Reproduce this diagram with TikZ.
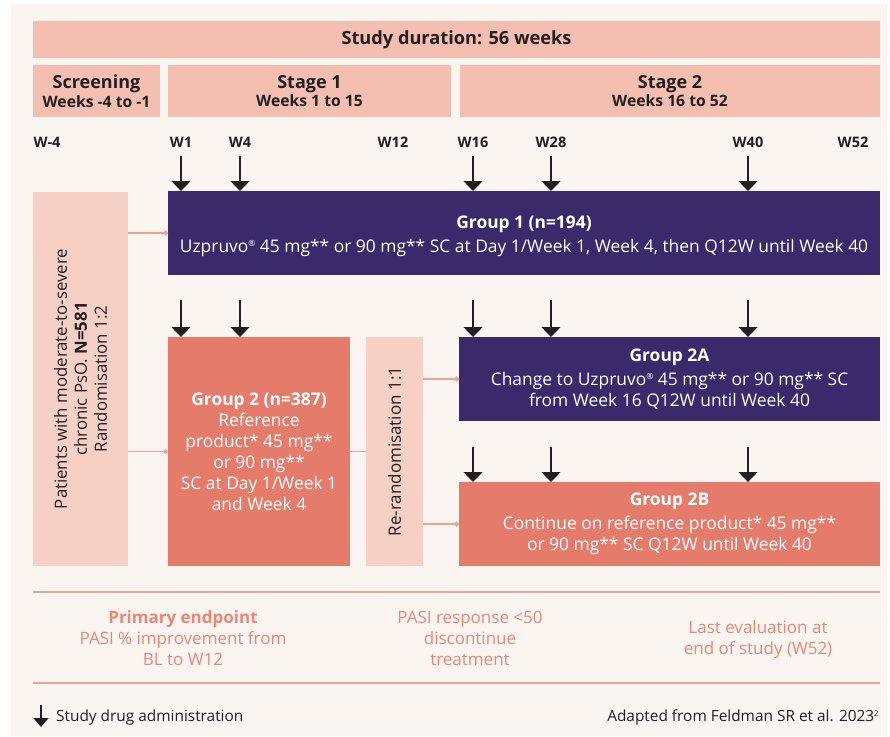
\documentclass[tikz,border=0pt]{standalone}
\usepackage{fontspec}
\setmainfont{Open Sans}
\usetikzlibrary{arrows.meta,calc}
\definecolor{bgc}{HTML}{FAF5F1}
\definecolor{barc}{HTML}{F4BEB0}
\definecolor{lightc}{HTML}{F6D0C5}
\definecolor{purp}{HTML}{3A2A6C}
\definecolor{coral}{HTML}{E57C6B}
\definecolor{linec}{HTML}{F0A193}
\definecolor{btext}{HTML}{EC8775}
\definecolor{dark}{HTML}{231F20}
\newcommand{\regm}{\raisebox{6pt}{\fontsize{8.5}{8.5}\selectfont ®}}
\begin{document}
\begin{tikzpicture}[x=1pt,y=-1pt,
  box/.style={inner sep=0pt, outer sep=0pt, anchor=north west, align=center},
  hdr/.style={box, fill=barc, text=dark, font=\bfseries\fontsize{15.7}{18.5}\selectfont},
  grp/.style={box, text=white, font=\fontsize{17.4}{21}\selectfont},
  side/.style={box, fill=lightc, text=dark},
  wk/.style={text=dark, font=\bfseries\fontsize{14.5}{16}\selectfont, inner sep=0pt},
  adm/.style={draw=dark, line width=1.5pt, -{Triangle[width=19pt,length=10pt]}},
  conn/.style={draw=linec, line width=1.2pt},
  cdot/.style={conn, -{Circle[length=5pt]}},
  btxt/.style={text=btext, align=center, font=\fontsize{17}{21}\selectfont, inner sep=0pt},
  note/.style={text=dark, font=\fontsize{15.4}{17}\selectfont, inner sep=0pt},
]
\useasboundingbox (0,0) rectangle (890,736);
\fill[white] (0,0) rectangle (890,736);
\fill[bgc] (11,4) rectangle (887,736);

% header bars
\node[hdr, minimum width=847pt, minimum height=37pt, font=\bfseries\fontsize{18.2}{18}\selectfont] (dur) at (33,21) {Study duration: 56 weeks};
\node[hdr, minimum width=127pt, minimum height=52pt] (scr) at (33,65) {{\fontsize{18}{18}\selectfont Screening}\\Weeks -4 to -1};
\node[hdr, minimum width=283pt, minimum height=52pt] (st1) at (168,65) {{\fontsize{18}{18}\selectfont Stage 1}\\Weeks 1 to 15};
\node[hdr, minimum width=420pt, minimum height=52pt] (st2) at (460,65) {{\fontsize{18}{18}\selectfont Stage 2}\\Weeks 16 to 52};

% week labels
\node[wk] (wm4) at (47,142) {W-4};
\node[wk] (w1) at (181,142) {W1};
\node[wk] (w4) at (240,142) {W4};
\node[wk] (w12) at (393,142) {W12};
\node[wk] (w16) at (473,142) {W16};
\node[wk] (w28) at (551,142) {W28};
\node[wk] (w40) at (748,142) {W40};
\node[wk] (w52) at (853,142) {W52};

% boxes
\node[box, fill=purp, grp, minimum width=712pt, minimum height=84pt] (g1) at (168,191) {};
\node[text=white, align=center, font=\fontsize{17.4}{21}\selectfont, inner sep=0pt] (g1t) at ([yshift=-3pt]g1.center)
  {\textbf{Group 1 (n=194)}\\[3pt]Uzpruvo\regm{} 45 mg** or 90 mg** SC at Day 1/Week 1, Week 4, then Q12W until Week 40};
\node[box, fill=coral, grp, minimum width=182pt, minimum height=229pt] (g2) at (168,337)
  {\textbf{Group 2 (n=387)}\\Reference\\product* 45 mg**\\or 90 mg**\\SC at Day 1/Week 1\\and Week 4};
\node[side, minimum width=95pt, minimum height=374pt] (pat) at (33,192) {};
\node[text=dark, rotate=90, align=center, font=\fontsize{16.8}{20}\selectfont, inner sep=0pt] (pattxt) at (pat.center)
  {Patients with moderate-to-severe\\chronic PsO. \textbf{N=581}\\Randomisation 1:2};
\node[side, minimum width=57pt, minimum height=229pt] (rr) at (366,337) {};
\node[text=dark, rotate=90, font=\fontsize{17}{20}\selectfont, inner sep=0pt] (rrtxt) at (rr.center) {Re-randomisation 1:1};
\node[box, fill=purp, grp, minimum width=421pt, minimum height=84pt] (g2a) at (459,337)
  {\textbf{Group 2A}\\[3pt]Change to Uzpruvo\regm{} 45 mg** or 90 mg** SC\\from Week 16 Q12W until Week 40};
\node[box, fill=coral, grp, minimum width=421pt, minimum height=84pt] (g2b) at (459,482)
  {\textbf{Group 2B}\\[3pt]Continue on reference product* 45 mg**\\or 90 mg** SC Q12W until Week 40};

% connectors
\draw[cdot] (pat.east |- g1.west) -- (g1.west);
\draw[cdot] (pat.east |- g2.west) -- (g2.west);
\draw[conn] (g2.east) -- (rr.west);
\draw[cdot] (rr.east |- g2a.west) -- (g2a.west);
\draw[cdot] (rr.east |- g2b.west) -- (g2b.west);

% administration arrows
\foreach \n/\x in {a1/181,a4/240,a16/473,a28/551,a40/748}{
  \coordinate (r1\n) at (\x,156);
  \draw[adm] (r1\n) -- (r1\n |- g1.north);
}
\foreach \n/\x in {a1/181,a4/240}{
  \coordinate (r2\n) at (\x,300);
  \draw[adm] (r2\n) -- (r2\n |- g2.north);
}
\foreach \n/\x in {a16/473,a28/551,a40/748}{
  \coordinate (r2\n) at (\x,300);
  \draw[adm] (r2\n) -- (r2\n |- g2a.north);
  \coordinate (r3\n) at (\x,447);
  \draw[adm] (r3\n) -- (r3\n |- g2b.north);
}

% bottom section
\draw[conn] (33,592) -- (880,592);
\draw[conn] (33,683) -- (880,683);
\node[btxt] (pe) at (183,638.5) {\textbf{Primary endpoint}\\PASI \% improvement from\\BL to W12};
\node[btxt] (pr) at (470,638) {PASI response <50\\discontinue\\treatment};
\node[btxt] (le) at (758,639.5) {Last evaluation at\\end of study (W52)};

% legend
\coordinate (lg) at (41,705);
\draw[draw=dark, line width=1.5pt, -{Triangle[width=15pt,length=9pt]}] (lg) -- ++(0,22);
\node[note, anchor=west] (lgt) at (56,717) {Study drug administration};
\node[note, anchor=east] (src) at (879,717) {Adapted from Feldman SR et al. 2023\raisebox{5pt}{\fontsize{8}{8}\selectfont 2}};
\end{tikzpicture}
\end{document}
